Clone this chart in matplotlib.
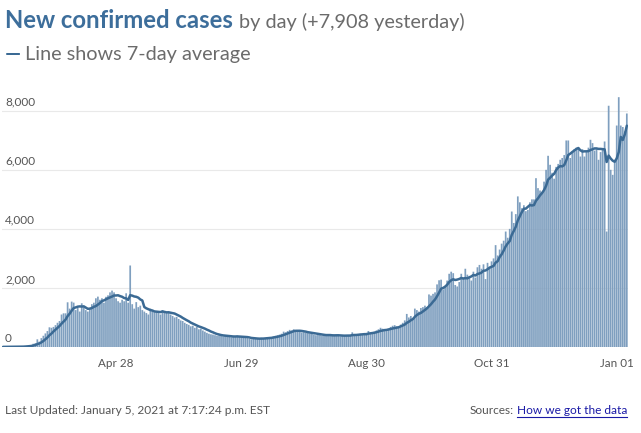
import matplotlib
matplotlib.use("Agg")
import matplotlib.pyplot as plt
import pandas as pd
from matplotlib.lines import Line2D
from matplotlib.transforms import ScaledTranslation

# daily new confirmed cases, Mar 1 2020 .. Jan 4 2021
mar_cases = [4, 5, 3, 6, 8, 9, 6, 10, 12, 16,
             22, 30, 45, 58, 62, 110, 130, 260, 180, 300,
             380, 460, 540, 667, 650, 680, 740, 820, 880, 1100, 1140]
apr_cases = [1140, 1514, 1300, 1537, 1503, 1250, 1320, 1200, 1480, 1350,
             1250, 1200, 1300, 1450, 1500, 1650, 1706, 1600, 1650, 1500,
             1700, 1750, 1850, 1910, 1850, 1650, 1550, 1500, 1600, 1550]
may_cases = [1819, 1500, 2760, 1450, 1300, 1520, 1350, 1400, 1250, 1200,
             1150, 1100, 1300, 1250, 1180, 1200, 1150, 1100, 1250, 1180,
             1150, 1200, 1100, 1050, 1000, 1020, 950, 900, 880, 820, 780]
jun_cases = [750, 700, 720, 650, 680, 600, 620, 560, 520, 480,
             450, 430, 420, 400, 380, 390, 370, 360, 380, 370,
             350, 330, 340, 360, 380, 350, 330, 320, 310, 300]
jul_cases = [280, 260, 300, 290, 270, 280, 310, 290, 300, 330,
             340, 320, 360, 380, 400, 420, 450, 520, 500, 540,
             580, 560, 600, 540, 520, 510, 490, 500, 480, 470, 460]
aug_cases = [440, 420, 400, 430, 410, 390, 400, 380, 420, 400,
             380, 390, 410, 400, 360, 380, 370, 400, 390, 410,
             497, 400, 390, 420, 450, 430, 460, 480, 542, 450, 500]
sep_cases = [520, 560, 600, 650, 620, 560, 540, 620, 680, 720,
             740, 700, 680, 760, 820, 900, 1120, 1000, 1050, 960,
             1300, 1250, 1200, 1320, 1350, 1400, 1350, 1780, 1740, 1800]
oct_cases = [1850, 2120, 2260, 2280, 1950, 2050, 2250, 2480, 2550, 2500,
             2100, 2050, 2200, 2480, 2350, 2650, 2450, 2350, 2250, 2550,
             2350, 2700, 2780, 2650, 2800, 2300, 2850, 2720, 2900, 3000, 3450]
nov_cases = [3100, 3300, 3500, 3600, 3910, 3700, 4000, 4588, 4200, 4500,
             5100, 4900, 4700, 4800, 4600, 4644, 4900, 5000, 5000, 5717,
             5380, 5300, 5200, 5600, 6000, 6475, 6170, 5900, 5700, 6100]
dec_cases = [6200, 6340, 6400, 6500, 6994, 6994, 6400, 6600, 6700, 6750,
             6734, 6450, 6700, 6450, 6600, 6750, 7017, 6904, 6650, 6700,
             6340, 6600, 6700, 6960, 3910, 8170, 6000, 5830, 6340, 7500, 8460]
jan_cases = [7500, 7450, 7300, 7908]

y_ticks = [0, 2000, 4000, 6000, 8000]
x_tick_dates = ["2020-04-28", "2020-06-29", "2020-08-30", "2020-10-31", "2021-01-01"]
x_tick_labels = ["Apr 28", "Jun 29", "Aug 30", "Oct 31", "Jan 01"]

cases = (mar_cases + apr_cases + may_cases + jun_cases + jul_cases + aug_cases
         + sep_cases + oct_cases + nov_cases + dec_cases + jan_cases)
dates = pd.date_range("2020-03-01", periods=len(cases), freq="D")
series = pd.Series(cases, index=dates)
avg7 = series.rolling(7, min_periods=1).mean()

BAR = "#7f9fbf"
LINE = "#3b6a94"
GRAY = "#6b6b6b"
FONT = "Lato"

fig = plt.figure(figsize=(6.41, 4.33), dpi=100)
ax = fig.add_axes([2 / 641, (433 - 347) / 433, 626 / 641, 251 / 433])

bars = ax.bar(dates, series.values, width=0.85, color=BAR, linewidth=0, zorder=2)
for b in bars:
    b.set_snap(False)
ax.plot(avg7.index, avg7.values, color=LINE, lw=1.8, solid_joinstyle="round",
        solid_capstyle="round", zorder=3)

ax.set_ylim(0, 8500)
ax.set_xlim(dates[0] - pd.Timedelta(hours=12), dates[-1] + pd.Timedelta(hours=14))

for s in ax.spines.values():
    s.set_visible(False)

ax.set_yticks(y_ticks)
ax.set_yticklabels([])
ax.tick_params(axis="y", length=0)
ax.grid(axis="y", color="#e9e9e9", lw=0.8, zorder=0)
lbl_off = ScaledTranslation(3 / 100, 3 / 100, fig.dpi_scale_trans)
for v in y_ticks:
    ax.text(0, v, f"{v:,}", transform=ax.get_yaxis_transform() + lbl_off,
            ha="left", va="bottom", fontsize=8.5, color="#555555", family=FONT, zorder=4)

ax.set_xticks(pd.to_datetime(x_tick_dates))
ax.set_xticklabels(x_tick_labels)
ax.tick_params(axis="x", length=0, pad=8, labelsize=8.4, labelcolor="#555555")
shift = ScaledTranslation(-4 / 100, 0, fig.dpi_scale_trans)
for lab in ax.get_xticklabels():
    lab.set_family(FONT)
    lab.set_transform(lab.get_transform() + shift)

# header
renderer = fig.canvas.get_renderer()
t1 = fig.text(5 / 641, 1 - 28 / 433, "New confirmed cases", fontsize=17.2, fontweight="bold",
              color="#3d6e9b", family=FONT, va="baseline")
bb = t1.get_window_extent(renderer)
fig.text((bb.x1 + 6) / 641, 1 - 28 / 433, "by day (+7,908 yesterday)", fontsize=14.3,
         color=GRAY, family=FONT, va="baseline")
fig.text(5 / 641, 1 - 60 / 433, "\u2014", fontsize=14.5, color=LINE, family=FONT,
         va="baseline", fontweight="bold")
fig.text(25 / 641, 1 - 60 / 433, "Line shows 7-day average", fontsize=14.3, color=GRAY,
         family=FONT, va="baseline")

# footer
fig.text(5 / 641, 1 - 414 / 433, "Last Updated: January 5, 2021 at 7:17:24 p.m. EST",
         fontsize=8.6, color="#555555", family=FONT, va="baseline")
link = fig.text(627 / 641, 1 - 414 / 433, "How we got the data", fontsize=8.6,
                color="#1a1aa6", family=FONT, va="baseline", ha="right")
lb = link.get_window_extent(renderer)
fig.text((lb.x0 - 3) / 641, 1 - 414 / 433, "Sources:", fontsize=8.6, color="#555555",
         family=FONT, va="baseline", ha="right")
fig.add_artist(Line2D([lb.x0 / 641, lb.x1 / 641], [1 - 416.5 / 433, 1 - 416.5 / 433],
                      color="#1a1aa6", lw=0.8))

fig.savefig("out.png", dpi=100)
